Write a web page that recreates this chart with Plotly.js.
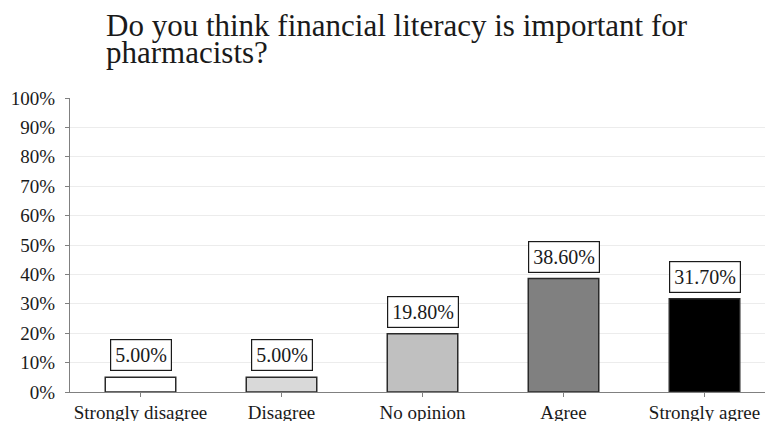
<!DOCTYPE html>
<html>
<head>
<meta charset="utf-8">
<script src="https://cdn.plot.ly/plotly-3.0.1.min.js"></script>
<style>html,body{margin:0;padding:0;background:#fff;}#chart{width:765px;height:421px;}</style>
</head>
<body>
<div id="chart"></div>
<script>
const categories = ["Strongly disagree", "Disagree", "No opinion", "Agree", "Strongly agree"];
const values = [0.05, 0.05, 0.198, 0.386, 0.317];
const valueLabels = ["5.00%", "5.00%", "19.80%", "38.60%", "31.70%"];
const barColors = ["#ffffff", "#d9d9d9", "#c0c0c0", "#808080", "#000000"];
const titleLines = ["Do you think financial literacy is important for", "pharmacists?"];
const yTickVals = [0, 0.1, 0.2, 0.3, 0.4, 0.5, 0.6, 0.7, 0.8, 0.9, 1.0];

const font = "Liberation Serif, Times New Roman, serif";

const trace = {
  type: "bar",
  x: categories.map((c, i) => i),
  y: values,
  width: 0.5,
  marker: { color: barColors, line: { color: "#2a2a2a", width: 1.5 } },
  hoverinfo: "skip"
};

const annotations = values.map((v, i) => ({
  x: i, y: v, xref: "x", yref: "y",
  text: valueLabels[i], showarrow: false,
  yanchor: "bottom", yshift: 6,
  font: { family: font, size: 20, color: "#1a1a1a" },
  bgcolor: "#ffffff", bordercolor: "#1a1a1a", borderwidth: 1.2, borderpad: 4
}));

const titleAnn = titleLines.map((t, i) => ({
  text: t, showarrow: false, xref: "paper", yref: "paper",
  x: (104 - 70) / 695, xanchor: "left",
  y: 1 + (98 - [37.5, 64][i]) / 294, yanchor: "bottom", yshift: -8,
  font: { family: font, size: 31, color: "#1a1a1a" }
}));

const layout = {
  width: 765, height: 421,
  margin: { l: 70, r: 0, t: 98, b: 29, pad: 0 },
  paper_bgcolor: "#ffffff", plot_bgcolor: "#ffffff",
  showlegend: false,
  font: { family: font, color: "#1a1a1a" },
  xaxis: {
    range: [-0.5, 4.429],
    tickvals: categories.map((c, i) => i),
    ticktext: categories,
    tickson: "boundaries",
    ticks: "outside", ticklen: 4, tickcolor: "#808080",
    showline: true, linecolor: "#808080", linewidth: 1,
    showgrid: false, zeroline: false,
    tickfont: { family: font, size: 19, color: "#1a1a1a" },
    ticklabelstandoff: -1,
    fixedrange: true
  },
  yaxis: {
    range: [0, 1],
    tickvals: yTickVals,
    tickformat: ".0%",
    ticks: "outside", ticklen: 4, tickcolor: "#808080",
    showline: true, linecolor: "#808080", linewidth: 1,
    showgrid: true, gridcolor: "#ececec", gridwidth: 1,
    zeroline: false,
    tickfont: { family: font, size: 19, color: "#1a1a1a" },
    ticklabelstandoff: 6,
    fixedrange: true
  },
  annotations: annotations.concat(titleAnn)
};

Plotly.newPlot("chart", [trace], layout, { displayModeBar: false, staticPlot: true });
</script>
</body>
</html>
